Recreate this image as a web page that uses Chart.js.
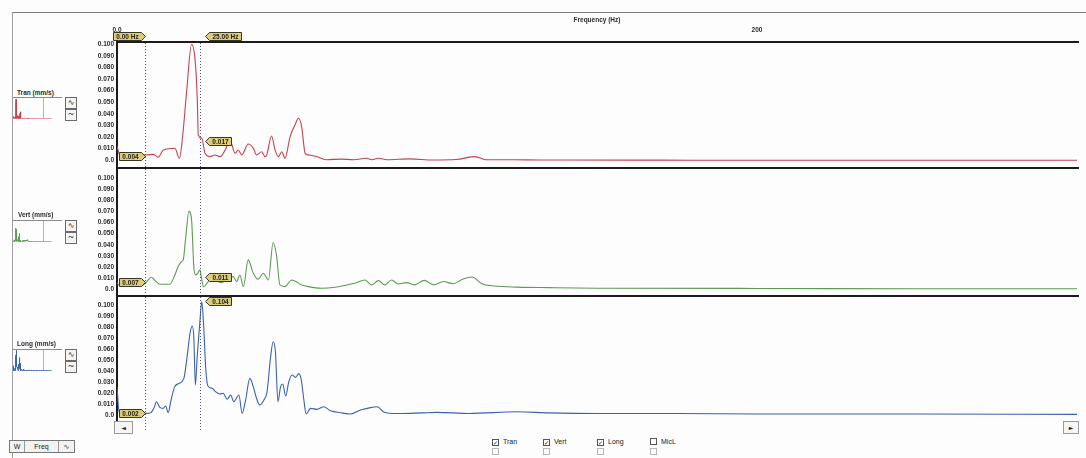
<!DOCTYPE html>
<html>
<head>
<meta charset="utf-8">
<script src="https://cdn.jsdelivr.net/npm/chart.js@4.4.1/dist/chart.umd.min.js"></script>
<style>
  body { margin: 0; background: #fdfdfd; font-family: "Liberation Sans", Arial, sans-serif; }
  #wrap { position: relative; width: 1086px; height: 458px; overflow: hidden; background: #fdfdfd; }
  canvas { position: absolute; }
  .abs { position: absolute; }
  .lbl { position: absolute; font-size: 6.5px; font-weight: bold; color: #2a2a2a; white-space: nowrap; }
  .thumb { position: absolute; left: 13px; width: 49px; height: 21px; border-top: 1px solid #8a8a8a; }
  .thumb .mid { position: absolute; left: 30px; top: 0; width: 1px; height: 20px; background: #b5b5b5; }
  .btn { position: absolute; left: 65px; width: 10px; height: 10px; border: 1px solid #6a6a6a; background: #f4f4f4;
         font: 8px "DejaVu Sans", sans-serif; line-height: 10px; text-align: center; color: #222; }
  .chk { position: absolute; font-size: 7px; color: #222; white-space: nowrap; }
  .chk i { display: inline-block; width: 5px; height: 5px; border: 1px solid #555; margin-right: 4px; vertical-align: -1px;
           font: normal 6px "DejaVu Sans"; line-height: 5px; text-align: center; font-style: normal; color: #222; }
  .chk.off i { border-color: #b8b8b8; }
  .sb { position: absolute; top: 421px; height: 11px; border: 1px solid #9a9a9a; background: #f6f6f6;
        font: 6px "DejaVu Sans"; line-height: 11px; text-align: center; color: #222; }
</style>
</head>
<body>
<div id="wrap">
  <!-- frame -->
  <div class="abs" style="left:12px;top:12px;width:1074px;height:1px;background:#7a7a7a"></div>
  <div class="abs" style="left:12px;top:12px;width:1px;height:446px;background:#a0a0a0"></div>

  <!-- left side: channel labels, thumbnails, buttons -->
  <div class="lbl" style="left:17px;top:89px">Tran (mm/s)</div>
  <div class="thumb" style="top:97px"><div class="mid"></div><canvas id="t1" width="49" height="21"></canvas></div>
  <div class="btn" style="top:97px">∿</div>
  <div class="btn" style="top:109px">~</div>

  <div class="lbl" style="left:18px;top:211px">Vert (mm/s)</div>
  <div class="thumb" style="top:220px"><div class="mid"></div><canvas id="t2" width="49" height="21"></canvas></div>
  <div class="btn" style="top:220px">∿</div>
  <div class="btn" style="top:232px">~</div>

  <div class="lbl" style="left:17px;top:340px">Long (mm/s)</div>
  <div class="thumb" style="top:349px"><div class="mid"></div><canvas id="t3" width="49" height="21"></canvas></div>
  <div class="btn" style="top:349px">∿</div>
  <div class="btn" style="top:361px">~</div>

  <!-- scrollbar under the last panel -->
  <div class="sb" style="left:114px;width:17px">◄</div>
  <div class="sb" style="left:1063px;width:14px">►</div>

  <!-- bottom controls -->
  <div class="abs" style="left:9px;top:440px;height:11px;border:1px solid #777;background:#f2f2f2;font-size:7px;line-height:11px;color:#222;white-space:nowrap">
    <span style="display:inline-block;width:14px;text-align:center;border-right:1px solid #999">W</span><span style="display:inline-block;width:33px;text-align:center;border-right:1px solid #999">Freq</span><span style="display:inline-block;width:15px;text-align:center;font-family:'DejaVu Sans'">∿</span>
  </div>
  <div class="chk" style="left:492px;top:438px"><i>✓</i>Tran</div>
  <div class="chk" style="left:543px;top:438px"><i>✓</i>Vert</div>
  <div class="chk" style="left:597px;top:438px"><i>✓</i>Long</div>
  <div class="chk" style="left:650px;top:438px"><i></i>MicL</div>
  <div class="chk off" style="left:492px;top:448px"><i></i></div>
  <div class="chk off" style="left:543px;top:448px"><i></i></div>
  <div class="chk off" style="left:597px;top:448px"><i></i></div>
  <div class="chk off" style="left:650px;top:448px"><i></i></div>

  <canvas id="p1" width="990" height="156" style="left:90px;top:11px"></canvas>
  <canvas id="p2" width="990" height="128" style="left:90px;top:167px"></canvas>
  <canvas id="p3" width="990" height="137" style="left:90px;top:295px"></canvas>
</div>

<script>
// frequency axis (Hz) and cursors
const freqTicks = [0, 200];
const cursorHz = [8.8, 25.9];
const cursorText = ['0.00 Hz', '25.00 Hz'];

// Tran channel (mm/s)
const tranHz = [0, 1, 3, 6, 9.3, 11.4, 12.9, 14.5, 18.1, 19.5,
  20.5, 21.8, 23.3, 24.4, 25.1, 25.4, 26.5, 27.5, 29.1, 30.6,
  32.2, 33.8, 35.3, 36.9, 37.9, 39.0, 41.0, 42.6, 43.6, 45.2,
  46.3, 46.8, 48.3, 49.4, 50.4, 51.5, 52.5, 54.1, 55.6, 56.7,
  57.7, 58.8, 60, 62, 65.5, 70, 73.9, 78, 79.6, 81.7,
  84.3, 91.6, 98.8, 106, 111.9, 115.5, 124, 132, 140, 170,
  200, 250, 300];
const tranVal = [0.012, 0.004, 0.005, 0.0045, 0.0046, 0.0051, 0.0026, 0.0089, 0.0103, 0.0017,
  0.0204, 0.0606, 0.1, 0.0865, 0.052, 0.0218, 0.0189, 0.006, 0.0031, 0.0046,
  0.0031, 0.0089, 0.0175, 0.006, 0.0089, 0.0046, 0.014, 0.0103, 0.0046, 0.0074,
  0.0031, 0.0046, 0.0209, 0.0089, 0.0031, 0.0074, 0.0017, 0.0204, 0.0304, 0.0362,
  0.029, 0.006, 0.0046, 0.0035, 0.0005, 0.001, 0.0005, 0.0017, 0.0005, 0.0017,
  0.0005, 0.0012, 0.0002, 0.0006, 0.0031, 0.0004, 0.0004, 0.0002, 0.0002, 0.0001,
  0, 0, 0];
const tranReadout = [0.004, 0.017];

// Vert channel (mm/s)
const vertHz = [0, 1, 4, 7, 8.2, 9.3, 10.8, 11.9, 13.4, 16.5,
  18.1, 19.1, 20.2, 20.7, 21.4, 22.5, 23.3, 24.0, 24.6, 25.2,
  25.9, 26.4, 27.0, 29.6, 32.7, 35.3, 36.3, 37.4, 38.4, 39.5,
  41.0, 42.6, 44.1, 45.7, 47.3, 48.8, 49.9, 50.9, 52.5, 54.6,
  57.7, 59.8, 63.9, 68.1, 70.2, 74.3, 77.5, 79.5, 81.7, 83.7,
  85.8, 87.9, 90.5, 93, 96, 99, 102, 105, 108, 111,
  114, 118, 125, 135, 150, 200, 250, 300];
const vertVal = [0.006, 0.003, 0.0035, 0.0035, 0.0039, 0.0069, 0.0108, 0.0078, 0.0045, 0.0045,
  0.0129, 0.0204, 0.025, 0.0264, 0.0444, 0.070, 0.0625, 0.0204, 0.0129, 0.0144,
  0.0174, 0.0099, 0.0024, 0.0099, 0.006, 0.0108, 0.0114, 0.0069, 0.0129, 0.0024,
  0.0264, 0.0144, 0.009, 0.0144, 0.0084, 0.042, 0.0294, 0.0039, 0.0024, 0.0084,
  0.0039, 0.0024, 0.001, 0.0018, 0.003, 0.0054, 0.0084, 0.0039, 0.0078, 0.0039,
  0.0084, 0.0048, 0.006, 0.004, 0.008, 0.004, 0.007, 0.005, 0.009, 0.011,
  0.005, 0.003, 0.002, 0.0015, 0.001, 0.0008, 0.0005, 0.0005];
const vertReadout = [0.007, 0.011];

// Long channel (mm/s)
const longHz = [0, 0.7, 4, 7, 8.9, 10.5, 11.5, 12.35, 13.4, 14.4,
  15.2, 16.0, 16.9, 18.0, 19.3, 20.9, 21.9, 22.8, 23.5, 24.0,
  24.5, 25.05, 25.9, 26.5, 27.1, 27.7, 28.4, 29.7, 30.8, 32.1,
  33.2, 34.4, 35.5, 36.5, 38.1, 39.1, 40.2, 41.5, 42.6, 43.6,
  44.6, 45.9, 46.9, 48.0, 48.8, 49.5, 50.3, 51.1, 51.8, 52.7,
  53.7, 54.7, 55.8, 56.8, 57.6, 58.4, 59.1, 60.5, 62.5, 64.6,
  66.7, 69.9, 73, 76.1, 78.2, 81.3, 83.5, 86, 89, 95,
  100, 110, 125, 135, 150, 175, 200, 250, 300];
const longVal = [0.026, 0.003, 0.002, 0.002, 0.0021, 0.0027, 0.0066, 0.0126, 0.0075, 0.0066,
  0.0087, 0.0027, 0.0142, 0.026, 0.029, 0.0337, 0.053, 0.074, 0.081, 0.071,
  0.0277, 0.053, 0.085, 0.103, 0.080, 0.044, 0.0268, 0.0247, 0.0217, 0.0196,
  0.0202, 0.0148, 0.0187, 0.0126, 0.0187, 0.0021, 0.0142, 0.0337, 0.026, 0.0157,
  0.0096, 0.0142, 0.0217, 0.053, 0.0668, 0.058, 0.0126, 0.026, 0.0286, 0.0178,
  0.0307, 0.0367, 0.0346, 0.038, 0.0322, 0.0142, 0.0015, 0.0066, 0.0057, 0.0081,
  0.0045, 0.0027, 0.0015, 0.0051, 0.0066, 0.0081, 0.003, 0.002, 0.002, 0.0025,
  0.003, 0.002, 0.0035, 0.0025, 0.002, 0.002, 0.0015, 0.0015, 0.0012];
const longReadout = [0.002, 0.104];

const FONT = '"Liberation Sans", Arial, sans-serif';

// yellow marker flag, dir = 1 points right (body left of the tip), -1 points left
function drawFlag(ctx, tip, cy, text, dir) {
  ctx.font = 'bold 6.5px ' + FONT;
  const w = Math.round(ctx.measureText(text).width) + 10, h = 8, t = 4;
  cy = Math.round(cy) + 0.5;
  const far = tip - dir * w, neck = tip - dir * t;
  ctx.beginPath();
  ctx.moveTo(tip, cy);
  ctx.lineTo(neck, cy - h / 2);
  ctx.lineTo(far, cy - h / 2);
  ctx.lineTo(far, cy + h / 2);
  ctx.lineTo(neck, cy + h / 2);
  ctx.closePath();
  ctx.fillStyle = '#dccd7a';
  ctx.fill();
  ctx.strokeStyle = '#3b3622';
  ctx.lineWidth = 1;
  ctx.stroke();
  ctx.fillStyle = '#1d1d1d';
  ctx.textAlign = 'center';
  ctx.textBaseline = 'middle';
  ctx.fillText(text, (far + neck) / 2, cy + 0.5);
}

// top frame line, dotted cursors and the readout flags
const cursorPlugin = {
  id: 'cursors',
  afterDatasetsDraw(chart, args, opts) {
    const { ctx, chartArea: a, scales: { x, y } } = chart;
    ctx.save();
    ctx.fillStyle = '#1b1b1b';
    ctx.fillRect(a.left, a.top, a.right - a.left + 2, 2);

    ctx.strokeStyle = '#4d5570';
    ctx.lineWidth = 1;
    ctx.setLineDash([1, 2]);
    cursorHz.forEach(hz => {
      const px = Math.round(x.getPixelForValue(hz)) + 0.5;
      ctx.beginPath();
      ctx.moveTo(px, a.top + 2);
      ctx.lineTo(px, chart.height);
      ctx.stroke();
    });
    ctx.setLineDash([]);

    const c0 = Math.round(x.getPixelForValue(cursorHz[0])) + 0.5;
    const c1 = Math.round(x.getPixelForValue(cursorHz[1])) + 0.5;
    if (opts.header) {
      drawFlag(ctx, c0, a.top - 5, cursorText[0], 1);
      drawFlag(ctx, c1 + 5, a.top - 5, cursorText[1], -1);
    }
    drawFlag(ctx, c0, y.getPixelForValue(opts.readout[0]), opts.readout[0].toFixed(3), 1);
    drawFlag(ctx, c1 + 5, y.getPixelForValue(opts.readout[1]), opts.readout[1].toFixed(3), -1);
    ctx.restore();
  }
};

function panel(id, hz, vals, color, yMin, yMax, readout, header, padBottom) {
  return new Chart(document.getElementById(id), {
    type: 'line',
    data: {
      datasets: [{
        data: hz.map((h, i) => ({ x: h, y: vals[i] })),
        borderColor: color,
        borderWidth: 1.1,
        pointRadius: 0,
        cubicInterpolationMode: 'monotone',
        fill: false
      }]
    },
    options: {
      responsive: false,
      animation: false,
      events: [],
      layout: { padding: { left: 0, right: 3, top: 0, bottom: padBottom } },
      plugins: {
        legend: { display: false },
        tooltip: { enabled: false },
        cursors: { readout: readout, header: header }
      },
      scales: {
        x: {
          type: 'linear',
          position: 'top',
          display: header,
          min: 0,
          max: 300,
          afterFit: s => { s.height = header ? 30 : 0; s.paddingLeft = 0; s.paddingRight = 0; },
          afterBuildTicks: s => { s.ticks = freqTicks.map(v => ({ value: v })); },
          ticks: {
            autoSkip: false,
            maxRotation: 0,
            padding: 7,
            color: '#2a2a2a',
            font: { family: FONT, size: 6.5, weight: 'bold' },
            callback: v => (v === 0 ? '0.0' : String(v))
          },
          grid: { display: false, drawTicks: false },
          border: { display: false },
          title: {
            display: true,
            text: 'Frequency (Hz)',
            color: '#2a2a2a',
            font: { family: FONT, size: 6.5, weight: 'bold' },
            padding: { top: 5, bottom: 0 }
          }
        },
        y: {
          min: yMin,
          max: yMax,
          afterFit: s => { s.width = 27; s.paddingTop = 0; s.paddingBottom = 0; },
          afterBuildTicks: s => { s.ticks = s.ticks.filter(t => t.value < 0.1005); },
          ticks: {
            stepSize: 0.01,
            includeBounds: false,
            autoSkip: false,
            padding: 3,
            color: '#2a2a2a',
            font: { family: FONT, size: 6.5, weight: 'bold' },
            callback: v => (Math.abs(v) < 1e-9 ? '0.0' : v.toFixed(3))
          },
          grid: { display: false, drawTicks: false },
          border: { display: true, color: '#1b1b1b', width: 2 }
        }
      }
    },
    plugins: [cursorPlugin]
  });
}

function thumb(id, hz, vals, color) {
  return new Chart(document.getElementById(id), {
    type: 'line',
    data: {
      datasets: [{
        data: hz.map((h, i) => ({ x: h, y: vals[i] })),
        borderColor: color,
        borderWidth: 1,
        pointRadius: 0
      }]
    },
    options: {
      responsive: false,
      animation: false,
      events: [],
      layout: { padding: 0 },
      plugins: { legend: { display: false }, tooltip: { enabled: false } },
      scales: {
        x: { type: 'linear', display: false, min: 0, max: 380 },
        y: { display: false, min: 0, max: 0.105 }
      }
    }
  });
}

panel('p1', tranHz, tranVal, '#c8414d', -0.0058, 0.1028, tranReadout, true, 0);
panel('p2', vertHz, vertVal, '#5e9a54', -0.0051, 0.1098, vertReadout, false, 0);
panel('p3', longHz, longVal, '#3a62ae', -0.0039, 0.109, longReadout, false, 12);

thumb('t1', tranHz, tranVal, '#c8414d');
thumb('t2', vertHz, vertVal, '#5e9a54');
thumb('t3', longHz, longVal, '#3a62ae');
</script>
</body>
</html>
